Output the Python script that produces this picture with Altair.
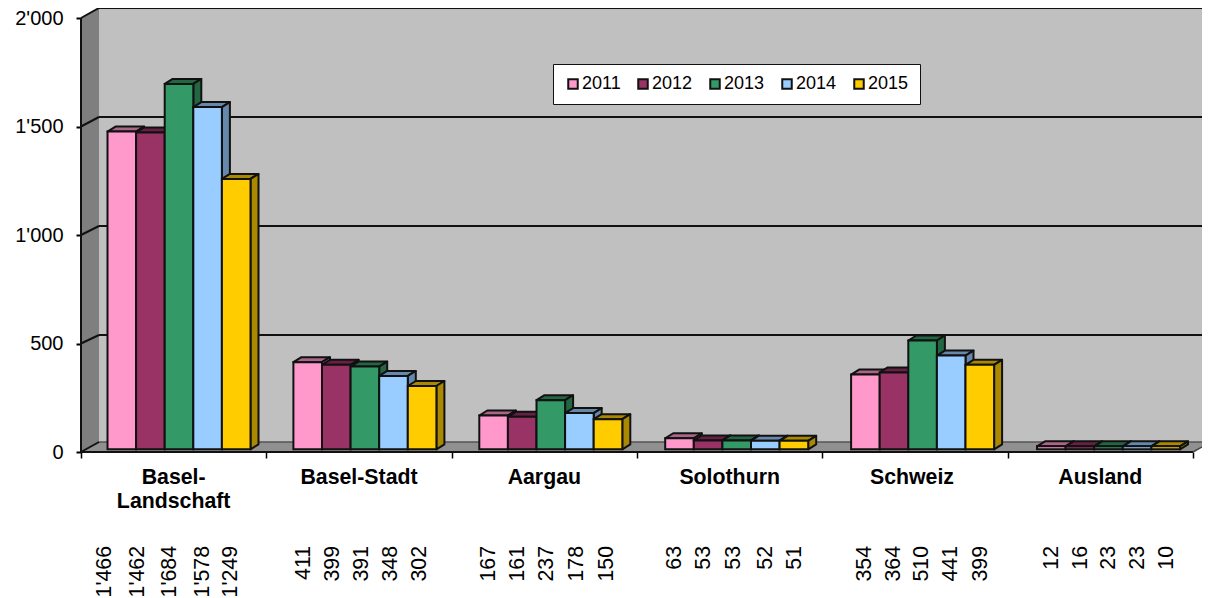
import altair as alt
import pandas as pd

categories = ["Basel-\nLandschaft", "Basel-Stadt", "Aargau", "Solothurn", "Schweiz", "Ausland"]
years = ["2011", "2012", "2013", "2014", "2015"]
values = {
    "2011": [1466, 411, 167, 63, 354, 12],
    "2012": [1462, 399, 161, 53, 364, 16],
    "2013": [1684, 391, 237, 53, 510, 23],
    "2014": [1578, 348, 178, 52, 441, 23],
    "2015": [1249, 302, 150, 51, 399, 10],
}
front_colors = ["#FF99CC", "#993366", "#339966", "#99CCFF", "#FFCC00"]
shade_colors = ["#AA6688", "#662244", "#226644", "#6688AA", "#AA8800"]
y_ticks = [0, 500, 1000, 1500, 2000]
# label centres, in px from each category's left tick
label_offsets = [
    [24, 57, 89, 122, 150],
    [38, 67, 96, 125, 154],
    [37, 66, 95, 125, 155],
    [38, 67, 97, 129, 158],
    [43, 72, 100, 129, 159],
    [44, 73, 101, 130, 159],
]
cat_nudge = [0, 0, 0, 0, -3, 0]

W, H = 1194, 590
PX_CAT = 185.33
PX_VAL = 0.217
X0, Y0 = 73, 444
FONT = 21.3
N = len(categories)
x_dom = [-X0 / PX_CAT, (W - X0) / PX_CAT]
y_dom = [(Y0 - H) / PX_VAL, Y0 / PX_VAL]
xs = alt.Scale(domain=x_dom, range=[0, W], nice=False, zero=False)
ys = alt.Scale(domain=y_dom, range=[H, 0], nice=False, zero=False)
x_axis = alt.Axis(values=list(range(N + 1)), labels=False, domain=False, grid=False, offset=Y0 - H,
                  tickSize=6, tickColor="black", tickWidth=1.5, title=None)
y_axis = alt.Axis(values=y_ticks, domain=False, grid=False, offset=-X0, tickSize=5, tickColor="black",
                  tickWidth=2, labelPadding=13, labelFont="Liberation Sans", labelFontSize=20,
                  labelColor="black", title=None,
                  labelExpr="replace(format(datum.value, ','), ',', \"'\")")


def X(f="x"):
    return alt.X(f"{f}:Q", scale=xs, axis=x_axis)


def Y(f="y"):
    return alt.Y(f"{f}:Q", scale=ys, axis=y_axis, stack=None)


DX, DY = 18 / PX_CAT, 10 / PX_VAL          # wall depth
BDX, BDY = 8 / PX_CAT, 5 / PX_VAL          # bar depth
BASE = 2.7 / PX_VAL
BAR_L, BAR_W = 26.5 / PX_CAT, 28.6 / PX_CAT
BAR_PITCH = 185.9 / PX_CAT
BAR_GAIN = 0.2186 / PX_VAL                 # bars stand nearer the viewer than the back wall
BACK_GAIN = 0.218 / PX_VAL
RIGHT = N + DX


def back_y(v):
    return 8 / PX_VAL + v * BACK_GAIN


# back wall
wall = alt.Chart(pd.DataFrame([{"x": DX, "x2": RIGHT, "y": DY, "y2": back_y(2000)}])).mark_rect(color="#C0C0C0").encode(
    x=X(), x2="x2:Q", y=Y(), y2="y2:Q")

# left wall and floor
lw = pd.DataFrame([{"x": 0, "y": 0, "y2": 2000}, {"x": DX, "y": DY, "y2": back_y(2000)}])
left_wall = alt.Chart(lw).mark_area(color="#7F7F7F").encode(x=X(), y=Y(), y2="y2:Q")
fl = pd.DataFrame([
    {"x": 0, "y": 0, "y2": 0},
    {"x": DX, "y": 0, "y2": DY},
    {"x": N, "y": 0, "y2": DY},
    {"x": RIGHT, "y": DY, "y2": DY},
])
floor = alt.Chart(fl).mark_area(color="#909090").encode(x=X(), y=Y(), y2="y2:Q")
back_floor = alt.Chart(pd.DataFrame([{"x": DX, "x2": RIGHT, "y": DY}])).mark_rule(color="#555555", strokeWidth=1.5).encode(
    x=X(), x2="x2:Q", y=Y())

# grid lines on the back wall and their diagonals
gl = pd.DataFrame([{"x": DX, "x2": RIGHT, "y": back_y(v)} for v in y_ticks[1:]])
grid = alt.Chart(gl).mark_rule(color="#111111", strokeWidth=2).encode(x=X(), x2="x2:Q", y=Y())
dg = pd.DataFrame([r for v in y_ticks for r in (
    {"k": v, "o": 0, "x": 0, "y": v}, {"k": v, "o": 1, "x": DX, "y": back_y(v) if v else DY})])
diag = alt.Chart(dg).mark_line(color="#111111", strokeWidth=2).encode(x=X(), y=Y(), detail="k:N", order="o:Q")
right_diag = alt.Chart(pd.DataFrame([{"o": 0, "x": N, "y": 0}, {"o": 1, "x": RIGHT, "y": DY}])).mark_line(
    color="#444444", strokeWidth=1.5).encode(x=X(), y=Y(), order="o:Q")
axis_line = alt.Chart(pd.DataFrame([{"x": 0, "y": 0, "y2": 2000}])).mark_rule(color="#111111", strokeWidth=2).encode(
    x=X(), y=Y(), y2="y2:Q")
front_line = alt.Chart(pd.DataFrame([{"x": 0, "x2": N, "y": 0}])).mark_rule(color="#111111", strokeWidth=2).encode(
    x=X(), x2="x2:Q", y=Y())

# bars
bar_layers = []
for j, yr in enumerate(years):
    fronts, tops, sides = [], [], []
    for c, v in enumerate(values[yr]):
        x0 = c * BAR_PITCH + BAR_L + j * BAR_W
        x1 = x0 + BAR_W
        t = max(v * BAR_GAIN, BASE + 3 / PX_VAL)
        fronts.append({"x": x0, "x2": x1, "y": BASE, "y2": t, "year": yr})
        for (x, a, b) in [(x0, t, t), (x0 + BDX, t, t + BDY), (x1, t, t + BDY), (x1 + BDX, t + BDY, t + BDY)]:
            tops.append({"b": c, "x": x, "y": a, "y2": b})
        for (x, a, b) in [(x1, BASE, t), (x1 + BDX, BASE + BDY, t + BDY)]:
            sides.append({"b": c, "x": x, "y": a, "y2": b})
    area = dict(stroke="#111111", strokeWidth=2, strokeJoin="round")
    top = alt.Chart(pd.DataFrame(tops)).mark_area(color=shade_colors[j], **area).encode(
        x=X(), y=Y(), y2="y2:Q", detail="b:N")
    side = alt.Chart(pd.DataFrame(sides)).mark_area(color=shade_colors[j], **area).encode(
        x=X(), y=Y(), y2="y2:Q", detail="b:N")
    front = alt.Chart(pd.DataFrame(fronts)).mark_rect(stroke="#111111", strokeWidth=2).encode(
        x=X(), x2="x2:Q", y=Y(), y2="y2:Q",
        color=alt.Color("year:N", scale=alt.Scale(domain=years, range=front_colors),
                        legend=alt.Legend(orient="none", legendX=545, legendY=56, direction="horizontal", columns=5,
                                          title=None, fillColor="white", strokeColor="#111111", padding=11,
                                          symbolType="square", symbolSize=90, symbolStrokeColor="#111111",
                                          symbolStrokeWidth=2, labelFont="Liberation Sans", labelFontSize=18,
                                          labelColor="black", labelOffset=0, columnPadding=13, symbolOpacity=1)),
    )
    bar_layers += [top, side, front]

# category names and the value row
cat_df = pd.DataFrame([{"x": i + 0.5 + cat_nudge[i] / PX_CAT, "y": -32 / PX_VAL, "t": c}
                       for i, c in enumerate(categories)])
cat_text = alt.Chart(cat_df).mark_text(font="Liberation Sans", fontSize=FONT, fontWeight="bold", color="black",
                                       baseline="alphabetic", lineBreak="\n", lineHeight=24).encode(
    x=X(), y=Y(), text="t:N")
rows = []
for c in range(N):
    for j, yr in enumerate(years):
        rows.append({"x": c + label_offsets[c][j] / PX_CAT, "y": -94 / PX_VAL,
                     "t": format(values[yr][c], ",").replace(",", "'")})
val_text = alt.Chart(pd.DataFrame(rows)).mark_text(font="Liberation Sans", fontSize=FONT, color="black", angle=270,
                                                   align="right", baseline="middle").encode(
    x=X(), y=Y(), text="t:N")

chart = alt.layer(wall, left_wall, floor, back_floor, grid, diag, right_diag, axis_line, front_line,
                  *bar_layers, cat_text, val_text).properties(
    width=W, height=H, padding=0, autosize=alt.AutoSizeParams(type="none"),
    background="white").configure_view(stroke=None)

chart.save("out.html", embed_options={"renderer": "svg", "actions": False})
